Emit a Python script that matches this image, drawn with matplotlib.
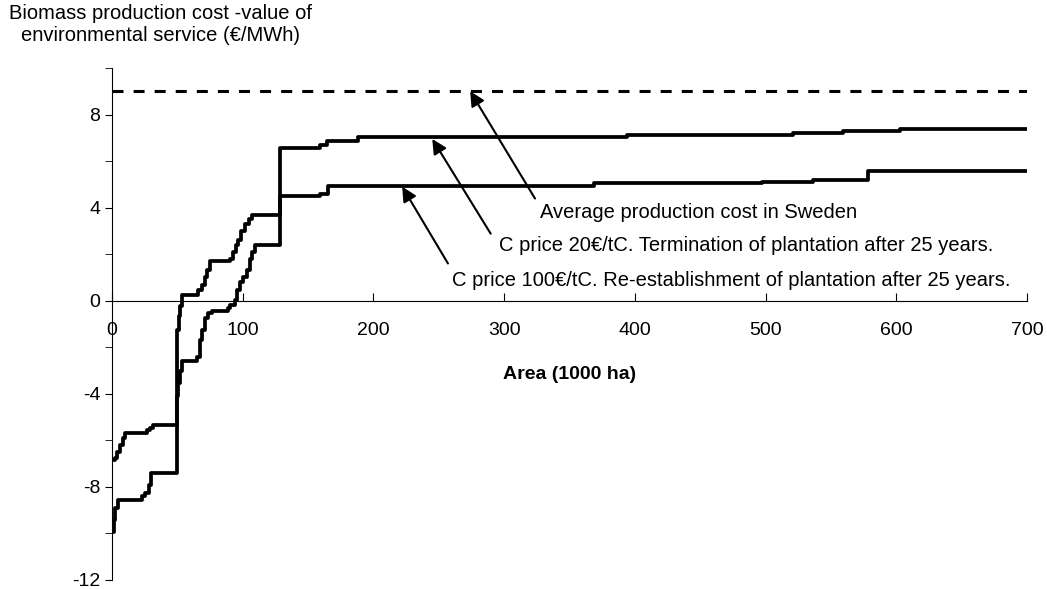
import matplotlib.pyplot as plt
from matplotlib.ticker import MultipleLocator, FixedLocator

plt.rcParams['font.family'] = ['Liberation Sans', 'DejaVu Sans']
plt.rcParams['axes.unicode_minus'] = False

# C price 20 EUR/tC, termination after 25 years
area_20 = [0, 2, 4, 6.1, 8.1, 10.1, 26.5, 29, 31.5, 49.7, 51, 52, 53.8, 66, 68.5, 71, 73, 75,
           90.3, 92.5, 94.5, 96.5, 98.5, 101.5, 104.5, 107, 128.5, 159, 164.5, 188,
           394, 521, 559, 603, 700]
cost_20 = [-6.84, -6.76, -6.5, -6.2, -5.9, -5.69, -5.55, -5.45, -5.36, -1.25, -0.67, -0.24, 0.26,
           0.47, 0.69, 1.0, 1.3, 1.69, 1.8, 2.1, 2.4, 2.6, 3.0, 3.3, 3.5, 3.7,
           6.58, 6.7, 6.88, 7.02, 7.14, 7.2, 7.28, 7.37, 7.37]

# C price 100 EUR/tC, re-establishment after 25 years
area_100 = [0, 1.4, 2.3, 4.9, 22.7, 25.3, 28.3, 29.6, 49.7, 50.7, 52, 53.3, 64.8, 67.3, 68.5,
            71.2, 73.7, 76.2, 89, 90.3, 94, 95.8, 98, 100.2, 103.2, 105.3, 107.3, 109.4,
            128.5, 159, 165, 369, 497, 536, 578, 700]
cost_100 = [-9.92, -9.42, -8.9, -8.56, -8.4, -8.27, -7.9, -7.41, -4.1, -3.54, -3.0, -2.61,
            -2.4, -1.68, -1.25, -0.75, -0.53, -0.46, -0.32, -0.17, 0.04, 0.47, 0.8, 1.0,
            1.33, 1.8, 2.1, 2.4, 4.49, 4.6, 4.92, 5.05, 5.09, 5.18, 5.58, 5.58]

avg_cost = 9.0
avg_area = [0, 700]

labels = ['Average production cost in Sweden',
          'C price 20€/tC. Termination of plantation after 25 years.',
          'C price 100€/tC. Re-establishment of plantation after 25 years.']
arrow_tips = [(274, 9.0), (245, 6.95), (222, 4.9)]
arrow_tails = [(323.6, 4.39), (289.7, 2.88), (257, 1.6)]
text_pos = [(327.5, 3.78), (296, 2.37), (260, 0.86)]

fig = plt.figure(figsize=(10.47, 5.89), dpi=100)
ax = fig.add_axes([0.107, 0.0153, 0.8739, 0.8693])

ax.plot(avg_area, [avg_cost, avg_cost], color='black', lw=2.2, dashes=(3.6, 3.3))
ax.plot(area_20, cost_20, color='black', lw=2.7, drawstyle='steps-post')
ax.plot(area_100, cost_100, color='black', lw=2.7, drawstyle='steps-post')

for lab, tip, tail, pos in zip(labels, arrow_tips, arrow_tails, text_pos):
    ax.annotate('', xy=tip, xytext=tail, annotation_clip=False,
                arrowprops=dict(arrowstyle='-|>', color='black', lw=1.5,
                                mutation_scale=22, shrinkA=0, shrinkB=0))
    ax.text(pos[0], pos[1], lab, fontsize=14.5, ha='left', va='center', clip_on=False)

ax.set_xlim(0, 700)
ax.set_ylim(-12, 10)
ax.spines['top'].set_visible(False)
ax.spines['right'].set_visible(False)
ax.spines['bottom'].set_position(('data', 0))
ax.spines['left'].set_bounds(-12, 10)

ax.xaxis.set_major_locator(MultipleLocator(100))
ax.yaxis.set_major_locator(FixedLocator([-12, -8, -4, 0, 4, 8]))
ax.yaxis.set_minor_locator(MultipleLocator(2))
ax.tick_params(axis='x', direction='in', length=6, pad=15, labelsize=14)
ax.tick_params(axis='y', which='both', direction='out', length=5, labelsize=14)

ax.text(350, -3.15, 'Area (1000 ha)', fontsize=14, fontweight='bold', ha='center', va='center')

fig.text(0.153, 0.993, 'Biomass production cost -value of\nenvironmental service (€/MWh)',
         fontsize=14.5, ha='center', va='top', linespacing=1.2)

fig.savefig('out.png', dpi=100, facecolor='white')
